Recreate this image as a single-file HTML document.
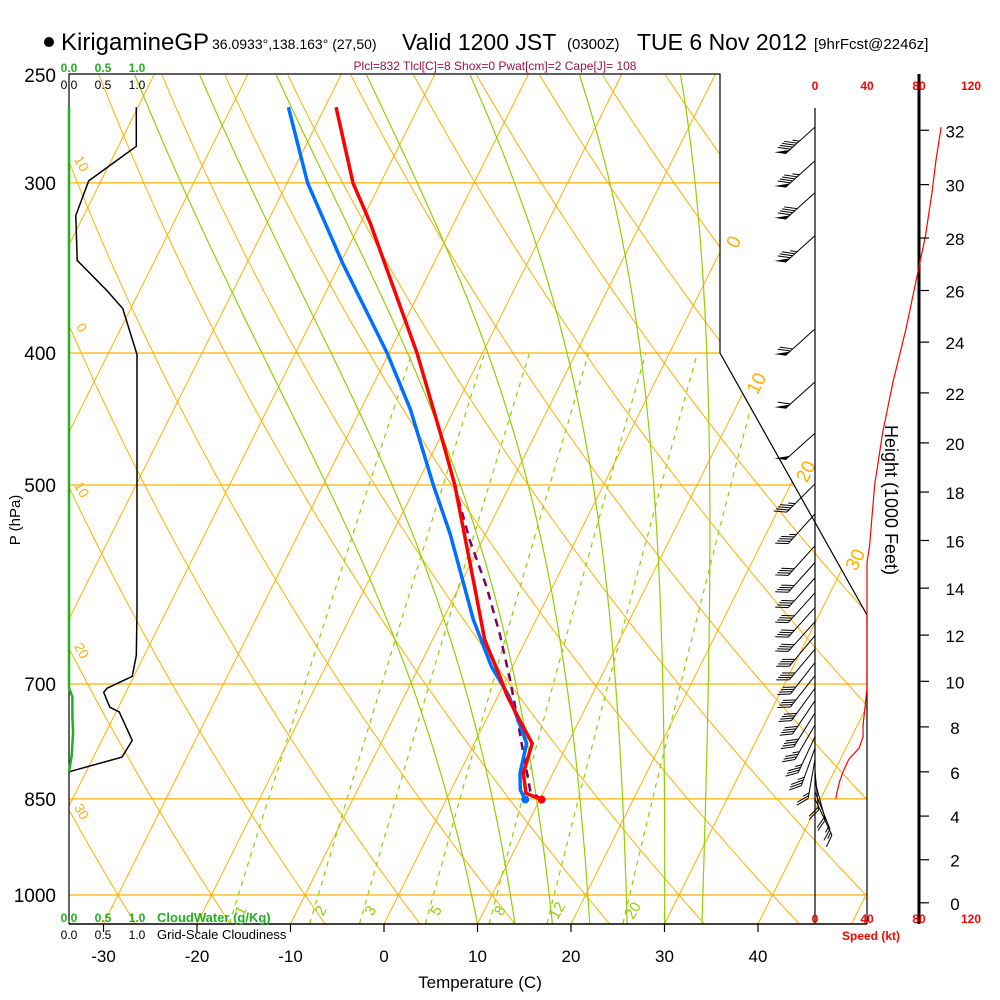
<!DOCTYPE html>
<html><head><meta charset="utf-8"><title>Skew-T KirigamineGP</title>
<style>
body{margin:0;background:#fff;}
svg{display:block;font-family:"Liberation Sans",sans-serif;}
</style></head>
<body>
<svg id="chart" width="1000" height="1000" viewBox="0 0 1000 1000" xmlns="http://www.w3.org/2000/svg">
<defs><clipPath id="clipMain"><polygon points="69,74 720,74 720,353 867,615 867,924 69,924"/></clipPath></defs>
<g>
<circle cx="49" cy="42" r="5" fill="#000"/>
<text x="61" y="50" font-size="24">KirigamineGP</text>
<text x="212" y="49" font-size="14">36.0933°,138.163° (27,50)</text>
<text x="402" y="50" font-size="23">Valid 1200 JST</text>
<text x="567" y="49" font-size="15">(0300Z)</text>
<text x="637" y="50" font-size="23">TUE 6 Nov 2012</text>
<text x="814" y="49" font-size="15">[9hrFcst@2246z]</text>
<text x="495" y="70" font-size="12" fill="#a0104a" text-anchor="middle">Plcl=832 Tlcl[C]=8 Shox=0 Pwat[cm]=2 Cape[J]= 108</text>
</g>
<g id="grid" clip-path="url(#clipMain)"></g>
<g id="gridLabels"></g>
<g id="frame"></g>
<g id="series"></g>
<g id="winds"></g>
<g id="axes"></g>
</svg>
<script>
// ---------- data ----------
const tempP = [851, 842, 814, 774, 744, 714, 687, 650, 587, 500, 466, 400, 321, 300, 264];
const tempT = [10.2, 8.2, 6.84, 6.2, 3.6, 0.96, -1.18, -4.4, -8.85, -15.9, -19.36, -27.0, -38.97, -42.95, -48.8];
const dewP = [851, 837, 814, 774, 744, 714, 680, 628, 543, 500, 440, 400, 344, 300, 264];
const dewT = [8.45, 7.4, 6.49, 5.6, 3.45, 1.14, -2.24, -6.7, -13.8, -18.2, -24.7, -30.2, -39.7, -47.8, -53.9];
const parcelP = [851, 839, 790, 727, 695, 643, 594, 549, 507, 500];
const parcelT = [10.2, 8.54, 5.95, 2.39, 0.43, -3.14, -7.05, -11.34, -15.26, -15.9];
const cloudP = [264, 282, 299, 317, 342, 360, 371, 401, 618, 667, 691, 705, 710, 728, 734, 770, 792, 812];
const cloudF = [0.99, 0.99, 0.29, 0.10, 0.12, 0.56, 0.79, 1.0, 1.0, 0.99, 0.93, 0.56, 0.51, 0.60, 0.74, 0.93, 0.78, 0.0];
const cwP = [264, 705, 715, 740, 760, 790, 812];
const cwQ = [0, 0, 0.05, 0.05, 0.06, 0.04, 0];
const windP = [273, 289, 305, 328, 384, 420, 458, 499, 525, 554, 570, 585, 600, 615, 630, 645, 660, 675, 690, 705, 720, 735, 750, 765, 780, 795, 810, 825, 840, 850];
const windDir = [228, 228, 228, 228, 228, 228, 228, 225, 222, 222, 222, 222, 222, 222, 222, 220, 220, 218, 218, 216, 214, 212, 210, 205, 200, 190, 175, 165, 158, 155];
const windSpd = [97, 93, 90, 85, 70, 60, 52, 46, 44, 42, 40, 40, 40, 40, 40, 40, 40, 40, 40, 40, 39, 38, 37, 37, 34, 26, 22, 19, 17, 16];
const tempTicks = [-30, -20, -10, 0, 10, 20, 30, 40];
const pressTicks = [250, 300, 400, 500, 700, 850, 1000];
const heightTicks = [0, 2, 4, 6, 8, 10, 12, 14, 16, 18, 20, 22, 24, 26, 28, 30, 32];
const speedTicks = [0, 40, 80, 120];
const isotherms = [-110,-100,-90,-80,-70,-60,-50,-40,-30,-20,-10,0,10,20,30,40,50];
const isoLabels = [0, 10, 20, 30];
const thetas = [-40,-30,-20,-10,0,10,20,30,40,50,60,70,80,90,100,110,120,130,140];
const thetaLabels = [10, 0, -10, -20, -30];
const moistStarts = [10, 14, 18, 22, 26, 30, 34];
const mixRatios = [1, 2, 3, 5, 8, 12, 20];

// ---------- axes functions ----------
const NS = "http://www.w3.org/2000/svg";
function yP(p){ return 895 + 591.5*Math.log(p/1000); }
function xT(T, y){ return 384 + 9.35*T + 0.5*(924 - y); }
function pY(y){ return 1000*Math.exp((y-895)/591.5); }
function xCloud(f){ return 69 + 68*f; }
function xSpeed(s){ return 815 + 1.3*s; }
function hToP(kft){ const m = kft*1000*0.3048; return 1013.25*Math.pow(1-2.25577e-5*m, 5.25588); }
function mk(tag, attrs, parent){ const e = document.createElementNS(NS, tag); for (const k in attrs) e.setAttribute(k, attrs[k]); parent.appendChild(e); return e; }
function pts(arr){ return arr.map(a => a[0].toFixed(1)+","+a[1].toFixed(1)).join(" "); }

const grid = document.getElementById('grid');
const gl = document.getElementById('gridLabels');
[300,400,500,700,850,1000].forEach(p=>{
  const l = mk('line',{x1:69,x2:870,y1:yP(p),y2:yP(p),stroke:'#ffb000','stroke-width':1.3},grid);
  
  
});
isotherms.forEach(T=>{
  const l = mk('line',{x1:xT(T,924),y1:924,x2:xT(T,74),y2:74,stroke:'#ffb000','stroke-width':1},grid);
  
  
});
thetas.forEach(th=>{
  const a=[];
  for(let p=1060;p>=245;p-=10){ const T=(th+273.15)*Math.pow(p/1000,0.2857)-273.15; const y=yP(p); a.push([xT(T,y),y]); }
  const l = mk('polyline',{points:pts(a),fill:'none',stroke:'#ffb000','stroke-width':1},grid);
  
  
});
function dTdp(T,p){ const Tc=T-273.15; const es=6.112*Math.exp(17.67*Tc/(Tc+243.5)); const rs=0.622*es/(p-es);
  const num=(287*T+2.5e6*rs)/p; const den=1004+2.5e6*2.5e6*rs*0.622/(287*T*T); return num/den; }
moistStarts.forEach(t0=>{
  let T=t0+273.15, p=1050; const a=[[xT(t0,yP(p)),yP(p)]];
  while(p>250){ const dp=-5; const k1=dTdp(T,p); const k2=dTdp(T+k1*dp/2,p+dp/2); T+=k2*dp; p+=dp; const y=yP(p); a.push([xT(T-273.15,y),y]); }
  const l = mk('polyline',{points:pts(a),fill:'none',stroke:'#90d000','stroke-width':1.2},grid);
  
  
});
function tdFromW(w,p){ const e=w*p/(622+w); const L=Math.log(e/6.112); return 243.5*L/(17.67-L); }
mixRatios.forEach(w=>{
  const a=[];
  for(let p=1050;p>=400;p-=10){ const y=yP(p); a.push([xT(tdFromW(w,p),y),y]); }
  const l = mk('polyline',{points:pts(a),fill:'none',stroke:'#90d000','stroke-width':1.2,'stroke-dasharray':'5,5'},grid);
  
  
  const yl=910, xl=xT(tdFromW(w,pY(yl)),yl);
  const t = mk('text',{x:xl+6,y:yl+6,'font-size':15,fill:'#90d000','text-anchor':'middle',transform:`rotate(-60 ${xl+6} ${yl})`},gl);
  t.textContent = w;
  
  
});
isoLabels.forEach(T=>{
  let y=(384+9.35*T+462-720)/0.5, x=720;
  if(y>353){ y=(384+9.35*T+462-720+0.5611*353)/(0.5+0.5611); x=720+0.5611*(y-353); }
  const t = mk('text',{x:x+14,y:y-4,'font-size':19,fill:'#ffb000','text-anchor':'middle',transform:`rotate(-63 ${x+14} ${y-10})`},gl);
  t.textContent = T;
  
  
});
thetaLabels.forEach(th=>{
  let yb=null;
  for(let y=80;y<924;y+=1){ const T=(th+273.15)*Math.pow(pY(y)/1000,0.2857)-273.15; if(xT(T,y)>=69){ yb=y; break; } }
  if(yb===null) return;
  const t = mk('text',{x:81,y:yb+6,'font-size':14,fill:'#ffb000','text-anchor':'middle',transform:`rotate(60 81 ${yb+2})`},gl);
  t.textContent = Math.abs(th);
  
  
});

// ---------- frame ----------
const fr = document.getElementById('frame');
mk('polyline',{points:"69,924 69,74 720,74 720,353 867,615 867,924",fill:'none',stroke:'#000','stroke-width':1.2},fr);
mk('line',{x1:69,y1:924,x2:867,y2:924,stroke:'#000','stroke-width':1.5},fr);
mk('line',{x1:815,y1:108,x2:815,y2:924,stroke:'#000','stroke-width':1.2},fr);
mk('line',{x1:919,y1:74,x2:919,y2:924,stroke:'#000','stroke-width':3},fr);

// ---------- series ----------
const sg = document.getElementById('series');
function prof(P,V,fx){ return P.map((p,i)=>{ const y=yP(p); return [fx(V[i],y),y]; }); }
const cl = mk('polyline',{points:pts(cloudP.map((p,i)=>[xCloud(cloudF[i]),yP(p)])),fill:'none',stroke:'#000','stroke-width':1.5},sg);


const cw = mk('polyline',{points:pts(cwP.map((p,i)=>[xCloud(cwQ[i]),yP(p)])),fill:'none',stroke:'#20b020','stroke-width':2.5},sg);


const pl = mk('polyline',{points:pts(prof(parcelP,parcelT,xT)),fill:'none',stroke:'#800060','stroke-width':2.5,'stroke-dasharray':'8,6'},sg);


const dl = mk('polyline',{points:pts(prof(dewP,dewT,xT)),fill:'none',stroke:'#0070ff','stroke-width':3.5},sg);


const tl = mk('polyline',{points:pts(prof(tempP,tempT,xT)),fill:'none',stroke:'#ff0000','stroke-width':3.5},sg);


const d1 = mk('circle',{cx:xT(dewT[0],yP(dewP[0])),cy:yP(dewP[0]),r:4,fill:'#0070ff'},sg);


const d2 = mk('circle',{cx:xT(tempT[0],yP(tempP[0])),cy:yP(tempP[0]),r:4,fill:'#ff0000'},sg);


const sp = mk('polyline',{points:pts(windP.map((p,i)=>[xSpeed(windSpd[i]),yP(p)])),fill:'none',stroke:'#ff0000','stroke-width':1.2},sg);



// ---------- wind barbs ----------
const wg = document.getElementById('winds');
windP.forEach((p,i)=>{
  const bx=815, by=yP(p), L=40;
  const r=windDir[i]*Math.PI/180;
  const dx=Math.sin(r), dy=-Math.cos(r);
  const tx=bx+dx*L, ty=by+dy*L;
  const g = mk('g',{},wg);
  
  
  mk('line',{x1:bx,y1:by,x2:tx,y2:ty,stroke:'#000','stroke-width':1},g);
  const a=Math.atan2(dy,dx)+50*Math.PI/180; const fx=Math.cos(a), fy=Math.sin(a);
  let s=Math.round(windSpd[i]/5)*5, pos=0;
  while(s>=50){ const x0=tx-dx*pos, y0=ty-dy*pos, x1=tx-dx*(pos+6), y1=ty-dy*(pos+6);
    mk('polygon',{points:`${x0},${y0} ${x1},${y1} ${x0+fx*11},${y0+fy*11}`,fill:'#000'},g); pos+=7; s-=50; }
  while(s>=10){ const x0=tx-dx*pos, y0=ty-dy*pos; mk('line',{x1:x0,y1:y0,x2:x0+fx*13,y2:y0+fy*13,stroke:'#000','stroke-width':1},g); pos+=3; s-=10; }
  if(s>=5){ const x0=tx-dx*pos, y0=ty-dy*pos; mk('line',{x1:x0,y1:y0,x2:x0+fx*7,y2:y0+fy*7,stroke:'#000','stroke-width':1},g); }
});

// ---------- axes labels ----------
const ax = document.getElementById('axes');
function txt(x,y,s,attrs,name){ const t=mk('text',Object.assign({x:x,y:y},attrs),ax); t.textContent=s;   return t; }
pressTicks.forEach(p=>{ txt(56,yP(p)+7,p,{'font-size':19,'text-anchor':'end'},'pressure-tick-label'); });
tempTicks.forEach(T=>{ const x=384+9.35*T; mk('line',{x1:x,y1:924,x2:x,y2:932,stroke:'#000','stroke-width':1.2},ax);
  txt(x,962,T,{'font-size':17,'text-anchor':'middle'},'temperature-tick-label'); });
txt(480,988,'Temperature (C)',{'font-size':17,'text-anchor':'middle'},'x-axis-title');
txt(20,520,'P (hPa)',{'font-size':15,'text-anchor':'middle',transform:'rotate(-90 20 520)'},'y-axis-title');
heightTicks.forEach(h=>{ const y=yP(hToP(h)); mk('line',{x1:919,y1:y,x2:929,y2:y,stroke:'#000','stroke-width':1.2},ax);
  txt(955,y+7,h,{'font-size':17,'text-anchor':'middle'},'height-tick-label'); });
txt(885,500,'Height (1000 Feet)',{'font-size':18,'text-anchor':'middle',transform:'rotate(90 885 500)'},'height-axis-title');
speedTicks.forEach(s=>{ const x=xSpeed(s);
  txt(x,90,s,{'font-size':12,fill:'#ff0000','text-anchor':'middle','font-weight':'bold'},'speed-tick-top');
  txt(x,923,s,{'font-size':12,fill:'#ff0000','text-anchor':'middle','font-weight':'bold'},'speed-tick-bottom'); });
txt(871,940,'Speed (kt)',{'font-size':12,fill:'#ff0000','text-anchor':'middle','font-weight':'bold'},'speed-axis-title');
[[0,'0.0'],[0.5,'0.5'],[1,'1.0']].forEach(([f,s])=>{
  txt(xCloud(f),72,s,{'font-size':12,fill:'#20b020','text-anchor':'middle','font-weight':'bold'},'cloudwater-tick-top');
  txt(xCloud(f),89,s,{'font-size':12,'text-anchor':'middle'},'cloudiness-tick-top');
  txt(xCloud(f),922,s,{'font-size':12,fill:'#20b020','text-anchor':'middle','font-weight':'bold'},'cloudwater-tick-bottom');
  txt(xCloud(f),939,s,{'font-size':12,'text-anchor':'middle'},'cloudiness-tick-bottom');
});
txt(157,922,'CloudWater (g/Kg)',{'font-size':13,fill:'#20b020','font-weight':'bold'},'cloudwater-label');
txt(157,939,'Grid-Scale Cloudiness',{'font-size':13},'cloudiness-label');
</script>
</body></html>
